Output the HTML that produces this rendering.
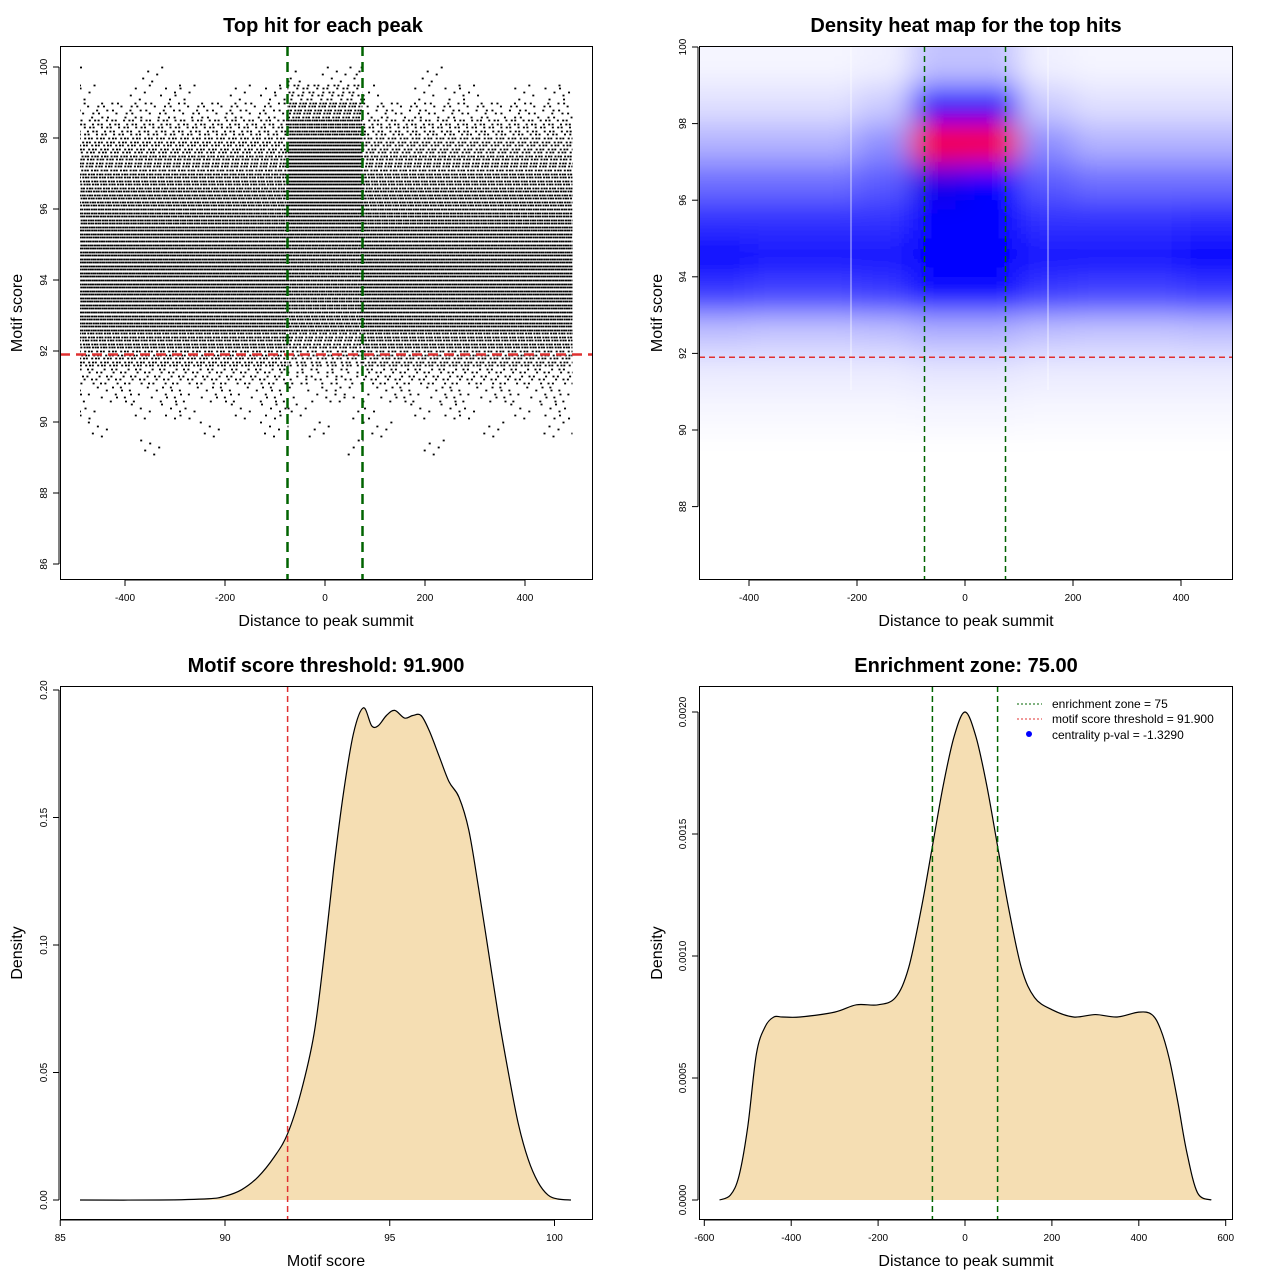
<!DOCTYPE html>
<html><head><meta charset="utf-8"><style>
body{margin:0;background:#fff}
svg{display:block;font-family:"Liberation Sans",sans-serif}
</style></head><body>
<svg id="s" width="1280" height="1280" viewBox="0 0 1280 1280">
<defs>
<clipPath id="c2"><rect x="699" y="46" width="533" height="533"/></clipPath>
<filter id="bl" x="-20%" y="-20%" width="140%" height="140%"><feGaussianBlur stdDeviation="14"/></filter>
</defs>
</svg>
<script>
// ---- Panel 1 scatter data (row densities per score band) ----
const scatBands=[100,99.5,99,98.5,98,97.5,97,96.5,96,95.5,95,94.5,94,93.5,93,92.5,92,91.5,91,90.5,90,89.5];
const scatOuter=[0.01,0.06,0.18,0.35,0.5,0.62,0.72,0.8,0.85,0.9,0.92,0.93,0.93,0.92,0.88,0.72,0.5,0.25,0.12,0.06,0.03,0.01];
const scatInner=[0.08,0.3,0.6,0.85,0.95,0.97,0.97,0.95,0.93,0.92,0.9,0.9,0.88,0.85,0.8,0.6,0.4,0.2,0.1,0.05,0.02,0.01];
// ---- Panel 2 heatmap grid ----
const hmX=[-450,-350,-250,-150,-50,50,150,250,350,450];
const hmY=[99.5,98.5,97.5,96.5,95.5,94.5,93.5,92.5,91.5,90.5];
const hmZ=[
[.02,.02,.02,.03,.12,.12,.03,.02,.02,.02],
[.06,.06,.06,.1,.62,.62,.1,.06,.06,.06],
[.15,.15,.15,.22,1,1,.22,.15,.15,.15],
[.28,.28,.28,.32,.82,.78,.32,.28,.28,.28],
[.4,.4,.4,.4,.62,.62,.4,.4,.4,.42],
[.5,.46,.45,.45,.55,.55,.45,.46,.46,.5],
[.38,.36,.36,.38,.48,.48,.38,.36,.36,.38],
[.12,.11,.11,.12,.15,.15,.12,.11,.11,.12],
[.04,.04,.04,.04,.05,.05,.04,.04,.04,.04],
[.015,.015,.015,.015,.02,.02,.015,.015,.015,.015]];
// ---- Panel 3 density of motif score ----
const d3x=[85.6,88,89.5,90,90.5,91,91.5,91.9,92.3,92.7,93,93.3,93.6,93.9,94.2,94.45,94.65,94.9,95.15,95.45,95.7,95.95,96.2,96.5,96.8,97.1,97.4,97.7,98,98.3,98.6,98.9,99.2,99.5,99.8,100.1,100.5];
const d3y=[0,0,0.0005,0.0015,0.004,0.009,0.017,0.026,0.042,0.065,0.095,0.13,0.16,0.183,0.193,0.186,0.186,0.19,0.192,0.189,0.19,0.19,0.184,0.174,0.164,0.158,0.145,0.122,0.097,0.072,0.05,0.03,0.016,0.007,0.002,0.0004,0];
// ---- Panel 4 density of distance ----
const d4x=[-565,-540,-520,-500,-480,-460,-440,-420,-380,-300,-250,-200,-160,-130,-100,-75,-50,-25,0,25,50,75,100,130,160,200,250,300,350,400,430,450,470,490,510,535,567];
const d4y=[0,0.00002,0.0001,0.0003,0.0006,0.00071,0.00075,0.00075,0.00075,0.00077,0.0008,0.0008,0.00083,0.00095,0.0012,0.00145,0.0017,0.0019,0.002,0.0019,0.0017,0.00145,0.0012,0.00095,0.00083,0.00078,0.00075,0.00076,0.00075,0.00077,0.00076,0.0007,0.00058,0.0004,0.0002,0.00003,0];

const NS="http://www.w3.org/2000/svg";
const S=document.getElementById('s');
function mk(t,a,p){const e=document.createElementNS(NS,t);for(const k in a)e.setAttribute(k,a[k]);(p||S).appendChild(e);return e;}
function txt(x,y,s,size,opt){opt=opt||{};const e=mk('text',{x:x,y:y,'font-size':size,'text-anchor':'middle',fill:'#000'});if(opt.bold)e.setAttribute('font-weight','bold');if(opt.rot)e.setAttribute('transform','rotate(-90 '+x+' '+y+')');e.textContent=s;return e;}
function smooth(pts){let d='M'+pts[0][0]+','+pts[0][1];for(let i=0;i<pts.length-1;i++){const p0=pts[i-1]||pts[i],p1=pts[i],p2=pts[i+1],p3=pts[i+2]||p2;const c1x=p1[0]+(p2[0]-p0[0])/6,c1y=p1[1]+(p2[1]-p0[1])/6,c2x=p2[0]-(p3[0]-p1[0])/6,c2y=p2[1]-(p3[1]-p1[1])/6;d+=' C'+c1x+','+c1y+' '+c2x+','+c2y+' '+p2[0]+','+p2[1];}return d;}

function frame(x0,y0,w,h,name){const r=mk('rect',{x:x0+.5,y:y0+.5,width:w,height:h,fill:'none',stroke:'#000','stroke-width':1});}
function xaxis(ticks,fx,yb,fmt){const g=mk('g',{});ticks.forEach(t=>{const x=fx(t);mk('line',{x1:x,x2:x,y1:yb,y2:yb+6,stroke:'#000'},g);const e=txt(x,yb+21,fmt?fmt(t):String(t),10);g.appendChild(e);});mk('line',{x1:fx(ticks[0]),x2:fx(ticks[ticks.length-1]),y1:yb,y2:yb,stroke:'#000'},g);}
function yaxis(ticks,fy,xl,fmt){const g=mk('g',{});ticks.forEach(t=>{const y=fy(t);mk('line',{x1:xl-6,x2:xl,y1:y,y2:y,stroke:'#000'},g);const e=txt(xl-12,y,fmt?fmt(t):String(t),10,{rot:1});g.appendChild(e);});mk('line',{x1:xl,x2:xl,y1:fy(ticks[0]),y2:fy(ticks[ticks.length-1]),stroke:'#000'},g);}

// ===== Panel 1 =====
(function(){
const fx=v=>325+v*0.5, fy=v=>67+(100-v)*35.5;
const g=mk('g',{});
let ri=0;
scatBands.forEach((b,i)=>{for(let k=0;k<5;k++){const s=b-k*0.1;const y=Math.round(fy(s))+0.5;
 [[-490,-75,scatOuter[i]],[-75,75,scatInner[i]],[75,495,scatOuter[i]]].forEach((seg,si)=>{const f=seg[2];if(f<=0)return;
  const base=2*(1-f)/f;
  const pat=f>0.97?'2 0.06':['2',(base*0.4).toFixed(2),'2',(base*1.7).toFixed(2),'2',(base*0.9).toFixed(2)].join(' ');
  mk('line',{x1:fx(seg[0]),x2:fx(seg[1]),y1:y,y2:y,stroke:'#000','stroke-width':1.8,'stroke-dasharray':pat,'stroke-dashoffset':((ri*37+si*13)%23)},g);});ri++;}});
mk('line',{x1:60,x2:592,y1:fy(91.9),y2:fy(91.9),stroke:'#e03030','stroke-width':2.5,'stroke-dasharray':'10 6'});
[-75,75].forEach(v=>mk('line',{x1:fx(v),x2:fx(v),y1:46,y2:579,stroke:'#006400','stroke-width':2.5,'stroke-dasharray':'10 6'}));
frame(60,46,532,533,'scatter-plot-area');
xaxis([-400,-200,0,200,400],fx,580);
yaxis([86,88,90,92,94,96,98,100],fy,59);
txt(323,32,'Top hit for each peak',20,{bold:1});
txt(326,626,'Distance to peak summit',16);
txt(22,313,'Motif score',16,{rot:1});
})();

// ===== Panel 2 =====
(function(){
const fx=v=>965+v*0.54, fy=v=>47+(100-v)*38.3;
function col(z){z=Math.max(0,Math.min(1,z));let r,g,b;if(z<0.5){const t=z/0.5;r=255*(1-t);g=255*(1-t);b=255;}else if(z<0.8){r=0;g=0;b=255;}else{const t=(z-0.8)/0.2;r=255*t;g=0;b=255*(1-t);}return 'rgb('+r.toFixed(0)+','+g.toFixed(0)+','+b.toFixed(0)+')';}
const gc=mk('g',{'clip-path':'url(#c2)'});
const g=mk('g',{filter:'url(#bl)'},gc);
hmY.forEach((yv,i)=>hmX.forEach((xv,j)=>{const x0=fx(xv-50),x1=fx(xv+50),y0=fy(yv+0.5),y1=fy(yv-0.5);
 const r=mk('rect',{x:x0-(j==0?40:0),y:y0-(i==0?40:0),width:x1-x0+(j==0||j==hmX.length-1?40:0)+1,height:y1-y0+1+(i==0?40:0),fill:col(hmZ[i][j])},g);}));
[851,1048].forEach(x=>mk('line',{x1:x,x2:x,y1:46,y2:390,stroke:'#fff','stroke-width':1,opacity:.7},gc));
mk('line',{x1:699,x2:1232,y1:fy(91.9),y2:fy(91.9),stroke:'#e03030','stroke-width':1.5,'stroke-dasharray':'6 4'});
[-75,75].forEach(v=>mk('line',{x1:fx(v),x2:fx(v),y1:46,y2:579,stroke:'#006400','stroke-width':1.5,'stroke-dasharray':'6 4'}));
frame(699,46,533,533,'heatmap-plot-area');
xaxis([-400,-200,0,200,400],fx,580);
yaxis([88,90,92,94,96,98,100],fy,698);
txt(966,32,'Density heat map for the top hits',20,{bold:1});
txt(966,626,'Distance to peak summit',16);
txt(662,313,'Motif score',16,{rot:1});
})();

// ===== Panel 3 =====
(function(){
const fx=v=>225+(v-90)*32.95, fy=v=>1200-v*2550;
const pts=d3x.map((x,i)=>[fx(x),fy(d3y[i])]);
const d=smooth(pts);
const a=mk('path',{d:d+' L'+pts[pts.length-1][0]+','+fy(0)+' L'+pts[0][0]+','+fy(0)+'Z',fill:'#f5deb3',stroke:'none'});
const l=mk('path',{d:d,fill:'none',stroke:'#000','stroke-width':1.2});
mk('line',{x1:fx(91.9),x2:fx(91.9),y1:686,y2:1219,stroke:'#e03030','stroke-width':1.5,'stroke-dasharray':'6 4'});
frame(60,686,532,533,'score-density-plot-area');
xaxis([85,90,95,100],fx,1220);
yaxis([0,0.05,0.1,0.15,0.2],fy,59,t=>t.toFixed(2));
txt(326,672,'Motif score threshold: 91.900',20,{bold:1});
txt(326,1266,'Motif score',16);
txt(22,953,'Density',16,{rot:1});
})();

// ===== Panel 4 =====
(function(){
const fx=v=>965+v*0.4345, fy=v=>1200-v*244000;
const pts=d4x.map((x,i)=>[fx(x),fy(d4y[i])]);
const d=smooth(pts);
const a=mk('path',{d:d+' L'+pts[pts.length-1][0]+','+fy(0)+' L'+pts[0][0]+','+fy(0)+'Z',fill:'#f5deb3',stroke:'none'});
const l=mk('path',{d:d,fill:'none',stroke:'#000','stroke-width':1.2});
[-75,75].forEach(v=>mk('line',{x1:fx(v),x2:fx(v),y1:686,y2:1219,stroke:'#006400','stroke-width':1.5,'stroke-dasharray':'6 4'}));
frame(699,686,533,533,'distance-density-plot-area');
xaxis([-600,-400,-200,0,200,400,600],fx,1220);
yaxis([0,0.0005,0.001,0.0015,0.002],fy,698,t=>t.toFixed(4));
txt(966,672,'Enrichment zone: 75.00',20,{bold:1});
txt(966,1266,'Distance to peak summit',16);
txt(662,953,'Density',16,{rot:1});
const lg=mk('g',{});
mk('line',{x1:1017,x2:1042,y1:704,y2:704,stroke:'#006400','stroke-dasharray':'2 2'},lg);
mk('line',{x1:1017,x2:1042,y1:719,y2:719,stroke:'#e03030','stroke-dasharray':'2 2'},lg);
mk('circle',{cx:1029,cy:734,r:3,fill:'#0000ff'},lg);
[['enrichment zone = 75',708],['motif score threshold = 91.900',723],['centrality p-val = -1.3290',739]].forEach(r=>{const e=mk('text',{x:1052,y:r[1],'font-size':12,fill:'#000'},lg);e.textContent=r[0];});
})();
</script>
</body></html>
